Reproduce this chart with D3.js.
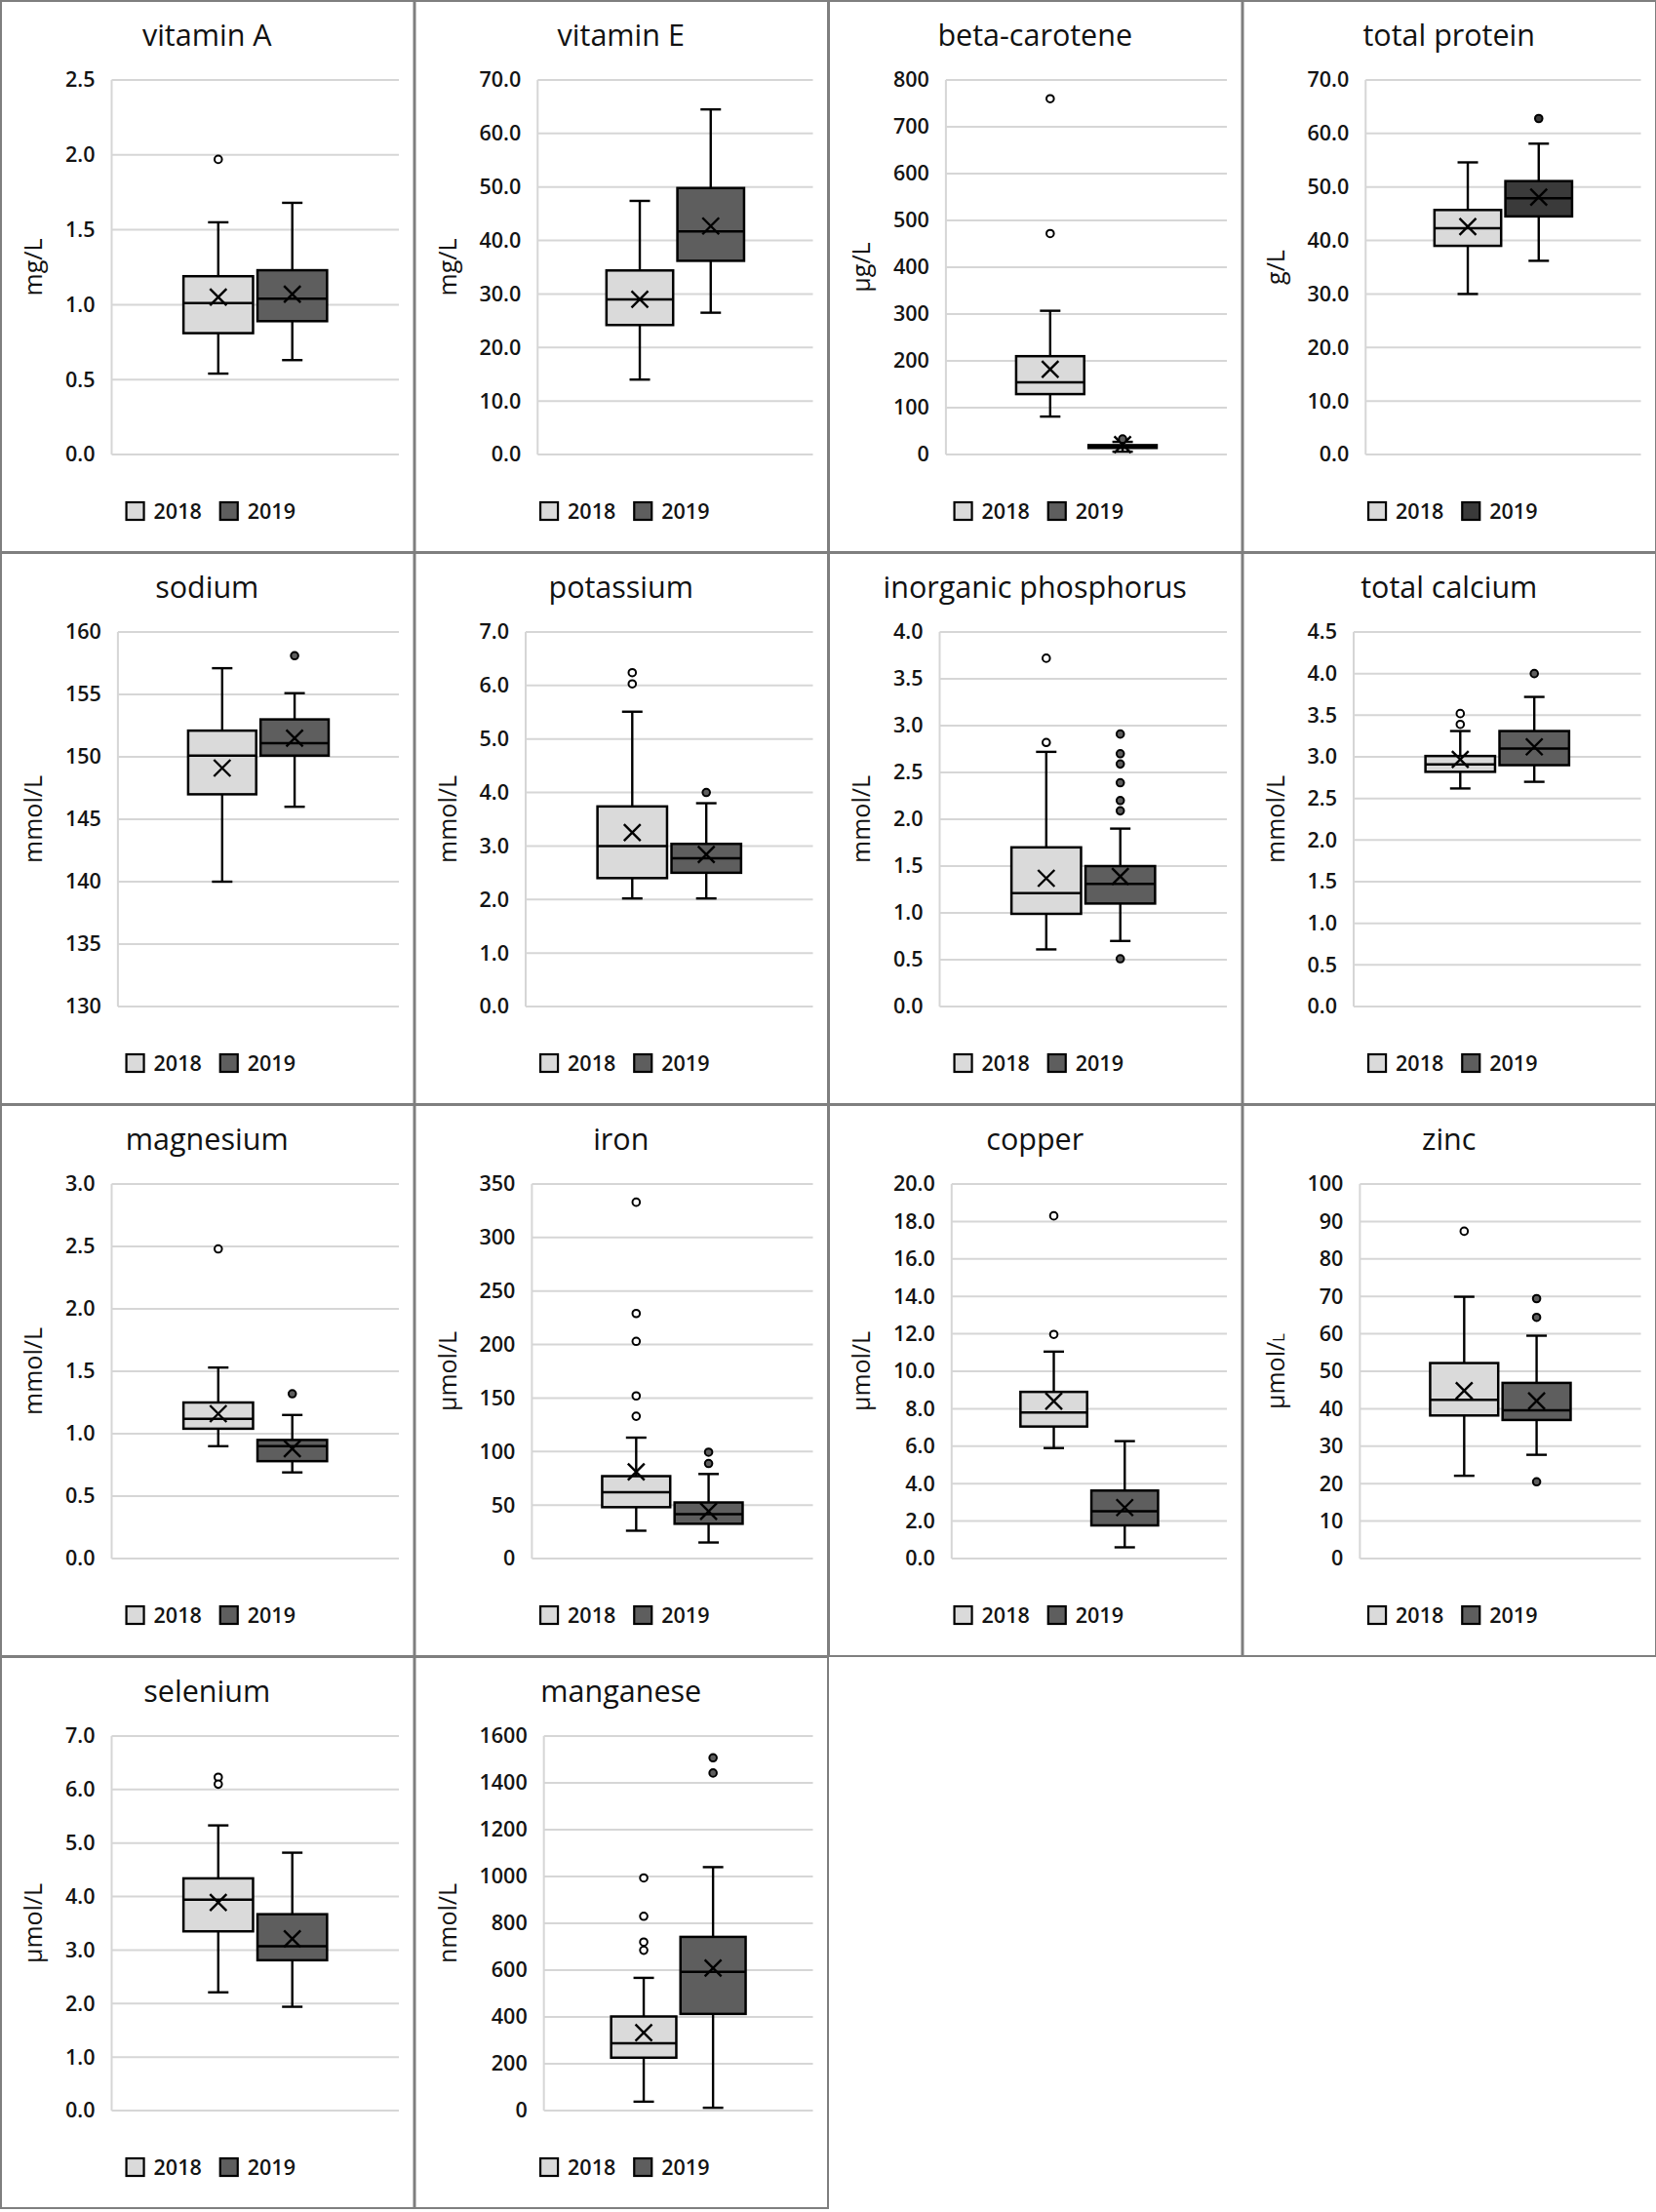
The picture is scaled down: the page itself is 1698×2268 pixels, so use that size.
<!DOCTYPE html>
<html>
<head>
<meta charset="utf-8">
<script src="https://cdn.jsdelivr.net/npm/d3@7"></script>
<style>
  html, body { margin: 0; padding: 0; background: #fff; }
  svg { display: block; }
  text { font-family: "Open Sans", "DejaVu Sans", sans-serif; }
</style>
</head>
<body>
<svg id="chart" width="1698" height="2268"></svg>
<script>
// ---------------- DATA ----------------
const panels = ["vitamin A","vitamin E","beta-carotene","total protein",
  "sodium","potassium","inorganic phosphorus","total calcium",
  "magnesium","iron","copper","zinc","selenium","manganese"];
const units = ["mg/L","mg/L","µg/L","g/L","mmol/L","mmol/L","mmol/L","mmol/L",
  "mmol/L","µmol/L","µmol/L","µmol/L","µmol/L","nmol/L"];
const years = ["2018","2019"];
const yMin = [0,0,0,0,130,0,0,0,0,0,0,0,0,0];
const yMax = [2.5,70,800,70,160,7,4,4.5,3,350,20,100,7,1600];
const yStep = [0.5,10,100,10,5,1,0.5,0.5,0.5,50,2,10,1,200];
const yDecimals = [1,1,0,1,0,1,1,1,1,0,1,0,1,0];

// [min, q1, median, q3, max, mean]
const box2018 = [
  [0.54,0.81,1.01,1.19,1.55,1.05],
  [14.0,24.2,29.0,34.4,47.4,29.0],
  [81,129,154,210,307,182],
  [30.0,39.0,42.3,45.7,54.6,42.6],
  [140.0,147.0,150.1,152.1,157.1,149.1],
  [2.02,2.40,3.0,3.74,5.51,3.25],
  [0.61,0.99,1.21,1.70,2.72,1.37],
  [2.62,2.82,2.91,3.01,3.31,2.97],
  [0.90,1.04,1.12,1.25,1.53,1.16],
  [26,48,62,77,113,81],
  [5.9,7.05,7.8,8.9,11.05,8.4],
  [22.1,38.2,42.4,52.2,69.9,44.8],
  [2.21,3.35,3.94,4.34,5.33,3.89],
  [38,226,288,402,567,333]
];
const box2019 = [
  [0.63,0.89,1.04,1.23,1.68,1.07],
  [26.5,36.2,41.7,49.8,64.5,42.7],
  [6,14,17,20,27,21],
  [36.2,44.5,47.9,51.1,58.1,48.1],
  [146.0,150.1,151.1,153.0,155.1,151.5],
  [2.02,2.50,2.77,3.04,3.80,2.84],
  [0.70,1.10,1.31,1.50,1.90,1.39],
  [2.70,2.90,3.10,3.31,3.72,3.12],
  [0.69,0.78,0.90,0.95,1.15,0.88],
  [15,32.5,41.4,52.4,79,44.1],
  [0.6,1.77,2.53,3.63,6.27,2.72],
  [27.7,37.0,39.6,46.9,59.5,42.1],
  [1.94,2.81,3.07,3.67,4.82,3.21],
  [12,413,593,742,1040,609]
];
const outliers2018 = [[1.97],[],[760,472],[],[],[6.24,6.03],[3.72,2.82],[3.52,3.39],
  [2.48],[333,229,203,152,133],[18.3,11.97],[87.4],[6.23,6.10],[994,830,720,685]];
const outliers2019 = [[],[],[33],[62.8],[158.1],[4.0],[2.91,2.70,2.59,2.39,2.20,2.09,0.51],
  [4.0],[1.32],[99.4,88.8],[],[69.4,64.4,20.5],[],[1507,1442]];

// ---------------- STYLE ----------------
const fill2018 = "#dadada";
const fill2019 = panels.map(p => p === "total protein" ? "#3a3a3a" : "#5e5e5e");
const panelW = 1698 / 4, panelH = 566;
const plotTop = 82, plotBottom = 466, plotRight = 409;
const labelLeft = 67, tickGap = 17;

const svg = d3.select("#chart");
svg.append("rect").attr("width",1698).attr("height",2268).attr("fill","#fff");

panels.forEach((name, i) => {
  const col = i % 4, row = Math.floor(i / 4);
  const g = svg.append("g").attr("transform", `translate(${col*panelW},${row*panelH})`);

  const y = d3.scaleLinear().domain([yMin[i], yMax[i]]).range([plotBottom, plotTop]);
  const ticks = d3.range(yMin[i], yMax[i] + yStep[i]/2, yStep[i]);
  const fmt = d3.format("." + yDecimals[i] + "f");

  // axis labels (measure first)
  const axisG = g.append("g")
    .call(d3.axisLeft(y).tickValues(ticks).tickSize(0).tickPadding(tickGap).tickFormat(fmt));
  axisG.select(".domain").remove();
  axisG.selectAll("text")
    .attr("font-size", 21.5).attr("fill", "#141414").attr("font-weight", 600)
    .style("font-family", "'Open Sans', sans-serif");
  let maxW = 0;
  axisG.selectAll("text").each(function(){ maxW = Math.max(maxW, this.getComputedTextLength()); });
  const plotLeft = labelLeft + maxW + tickGap;
  axisG.attr("transform", `translate(${plotLeft},0)`);

  // gridlines
  g.insert("g", ":first-child").selectAll("line").data(ticks).join("line")
    .attr("x1", plotLeft).attr("x2", plotRight)
    .attr("y1", d => y(d)).attr("y2", d => y(d))
    .attr("stroke", "#d6d6d6").attr("stroke-width", 2);
  g.append("line").attr("x1", plotLeft).attr("x2", plotLeft)
    .attr("y1", plotTop).attr("y2", plotBottom)
    .attr("stroke", "#d6d6d6").attr("stroke-width", 2);

  // x scales
  const x0 = d3.scaleBand().domain([name]).range([plotLeft, plotRight]).paddingInner(0).paddingOuter(0.5);
  const xs = d3.scaleBand().domain(years).range([0, x0.bandwidth()]).paddingInner(0.06);
  const bw = xs.bandwidth();
  const capW = 21;

  const series = [
    {year:"2018", s: box2018[i], out: outliers2018[i], fill: fill2018, ofill: "#fff"},
    {year:"2019", s: box2019[i], out: outliers2019[i], fill: fill2019[i], ofill: fill2019[i]}
  ];

  series.forEach(d => {
    const [mn, q1, md, q3, mx, mean] = d.s;
    const left = x0(name) + xs(d.year);
    const cx = left + bw / 2;
    const sg = g.append("g");
    const sw = 2.4;
    // whiskers
    sg.append("line").attr("x1",cx).attr("x2",cx).attr("y1",y(q3)).attr("y2",y(mx))
      .attr("stroke","#000").attr("stroke-width",sw);
    sg.append("line").attr("x1",cx).attr("x2",cx).attr("y1",y(q1)).attr("y2",y(mn))
      .attr("stroke","#000").attr("stroke-width",sw);
    sg.append("line").attr("x1",cx-capW/2).attr("x2",cx+capW/2).attr("y1",y(mx)).attr("y2",y(mx))
      .attr("stroke","#000").attr("stroke-width",sw);
    sg.append("line").attr("x1",cx-capW/2).attr("x2",cx+capW/2).attr("y1",y(mn)).attr("y2",y(mn))
      .attr("stroke","#000").attr("stroke-width",sw);
    // box
    sg.append("rect").attr("x",left).attr("width",bw)
      .attr("y",y(q3)).attr("height",Math.max(1, y(q1)-y(q3)))
      .attr("fill",d.fill).attr("stroke","#000").attr("stroke-width",2.5);
    sg.append("line").attr("x1",left).attr("x2",left+bw).attr("y1",y(md)).attr("y2",y(md))
      .attr("stroke","#000").attr("stroke-width",2.5);
    // mean
    sg.append("path").attr("transform",`translate(${cx},${y(mean)})`)
      .attr("d","M-8.5,-8.5L8.5,8.5M-8.5,8.5L8.5,-8.5").attr("stroke","#000").attr("stroke-width",2.4).attr("fill","none");
    // outliers
    sg.selectAll("circle").data(d.out).join("circle")
      .attr("cx",cx).attr("cy",v => y(v)).attr("r",3.8)
      .attr("fill",d.ofill).attr("stroke","#000").attr("stroke-width",2);
  });

  // title
  g.append("text").attr("x", panelW/2).attr("y", 47).attr("text-anchor","middle")
    .attr("font-size", 30.5).attr("fill","#111").text(name);

  // y label
  const yl = g.append("text").attr("transform", `translate(43,${(plotTop+plotBottom)/2}) rotate(-90)`)
    .attr("text-anchor","middle").attr("font-size",25).attr("fill","#111");
  if (name === "zinc") {
    yl.append("tspan").text("µmol/");
    yl.append("tspan").attr("font-size",17).text("L");
  } else {
    yl.text(units[i]);
  }

  // legend
  const lg = g.append("g");
  const sq = 18, gapT = 10, gapItem = 19;
  const tmp = lg.append("text").attr("font-size",21.5).attr("font-weight",600).text("2018");
  const tw = tmp.node().getComputedTextLength();
  tmp.remove();
  const total = 2*(sq+gapT+tw) + gapItem;
  let lx = panelW/2 - total/2 + 4;
  const ly = 524;
  [["2018", fill2018], ["2019", fill2019[i]]].forEach(([lab, f]) => {
    lg.append("rect").attr("x",lx).attr("y",ly-sq/2).attr("width",sq).attr("height",sq)
      .attr("fill",f).attr("stroke","#000").attr("stroke-width",2.2);
    lg.append("text").attr("x",lx+sq+gapT).attr("y",ly).attr("dy","0.36em")
      .attr("font-size",21.5).attr("font-weight",600).attr("fill","#141414").text(lab);
    lx += sq + gapT + tw + gapItem;
  });

  // panel border
  g.append("rect").attr("x",1).attr("y",1).attr("width",panelW-1).attr("height",panelH-1)
    .attr("fill","none").attr("stroke","#7f7f7f").attr("stroke-width",2);
});
</script>
</body>
</html>
